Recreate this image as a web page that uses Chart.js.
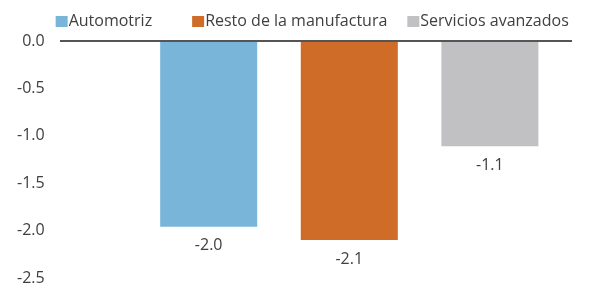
<!DOCTYPE html>
<html>
<head>
<meta charset="utf-8">
<script src="https://cdn.jsdelivr.net/npm/chart.js@4.4.1/dist/chart.umd.min.js"></script>
<style>
  html, body { margin: 0; padding: 0; background: #fff; overflow: hidden; }
  canvas { display: block; }
</style>
</head>
<body>
<canvas id="chart" width="589" height="298"></canvas>
<script>
// Datos del gráfico
const categories = ['Automotriz', 'Resto de la manufactura', 'Servicios avanzados'];
const values = [-1.96, -2.10, -1.11];
const yTicks = [0, -0.5, -1.0, -1.5, -2.0, -2.5];

// Colores de cada serie
const colors = ['#79B5D8', '#CF6C27', '#C1C1C4'];

const FONT = '"Open Sans", sans-serif';
const TEXT = '#404040';

// etiquetas de valor debajo de cada barra
const valueLabels = {
    id: 'valueLabels',
    afterDatasetsDraw(chart) {
        const ctx = chart.ctx;
        ctx.save();
        ctx.font = '16px ' + FONT;
        ctx.fillStyle = TEXT;
        ctx.textAlign = 'center';
        ctx.textBaseline = 'middle';
        chart.data.datasets.forEach((ds, i) => {
            const meta = chart.getDatasetMeta(i);
            meta.data.forEach((bar, j) => {
                ctx.fillText(ds.data[j].y.toFixed(1), bar.x, bar.y + 19);
            });
        });
        ctx.restore();
    }
};

// leyenda compacta (cuadro pegado al texto)
const legendGaps = [40, 20];
const compactLegend = {
    id: 'compactLegend',
    afterDraw(chart) {
        const ctx = chart.ctx;
        const area = chart.chartArea;
        ctx.save();
        ctx.font = '16px ' + FONT;
        ctx.textBaseline = 'middle';
        ctx.textAlign = 'left';
        let x = area.left - 4;
        const y = 21.5;
        chart.data.datasets.forEach((ds, i) => {
            ctx.fillStyle = ds.backgroundColor;
            ctx.fillRect(x, y - 5.5, 12, 11);
            x += 13;
            ctx.fillStyle = TEXT;
            ctx.fillText(ds.label, x, y);
            x += ctx.measureText(ds.label).width + (legendGaps[i] || 0);
        });
        ctx.restore();
    }
};

const datasets = categories.map((name, i) => ({
    label: name,
    data: [{ x: i + 1, y: values[i] }],
    backgroundColor: colors[i],
    grouped: false,
    barPercentage: 0.69,
    categoryPercentage: 1
}));

new Chart(document.getElementById('chart'), {
    type: 'bar',
    data: { datasets: datasets },
    options: {
        responsive: false,
        animation: false,
        layout: { padding: { left: 2, right: 17, top: 41, bottom: 20 } },
        plugins: {
            tooltip: { enabled: false },
            legend: { display: false }
        },
        scales: {
            x: {
                type: 'linear',
                display: false,
                offset: false,
                min: 1 - 1.06,
                max: categories.length + 0.584,
                afterBuildTicks: axis => {
                    axis.ticks = categories.map((c, i) => ({ value: i + 1 }));
                }
            },
            y: {
                min: Math.min(...yTicks),
                max: Math.max(...yTicks),
                afterBuildTicks: axis => {
                    axis.ticks = yTicks.map(v => ({ value: v }));
                },
                // el padding de las etiquetas no debe encoger el área vertical
                afterFit: axis => {
                    axis.paddingTop = 10;
                    axis.paddingBottom = 10;
                },
                border: { display: false },
                grid: {
                    drawTicks: false,
                    lineWidth: 2,
                    color: c => (c.tick && c.tick.value === 0) ? '#555555' : 'rgba(0,0,0,0)'
                },
                ticks: {
                    padding: 15,
                    color: TEXT,
                    font: { family: FONT, size: 16 },
                    callback: v => v.toFixed(1)
                }
            }
        }
    },
    plugins: [valueLabels, compactLegend]
});
</script>
</body>
</html>
